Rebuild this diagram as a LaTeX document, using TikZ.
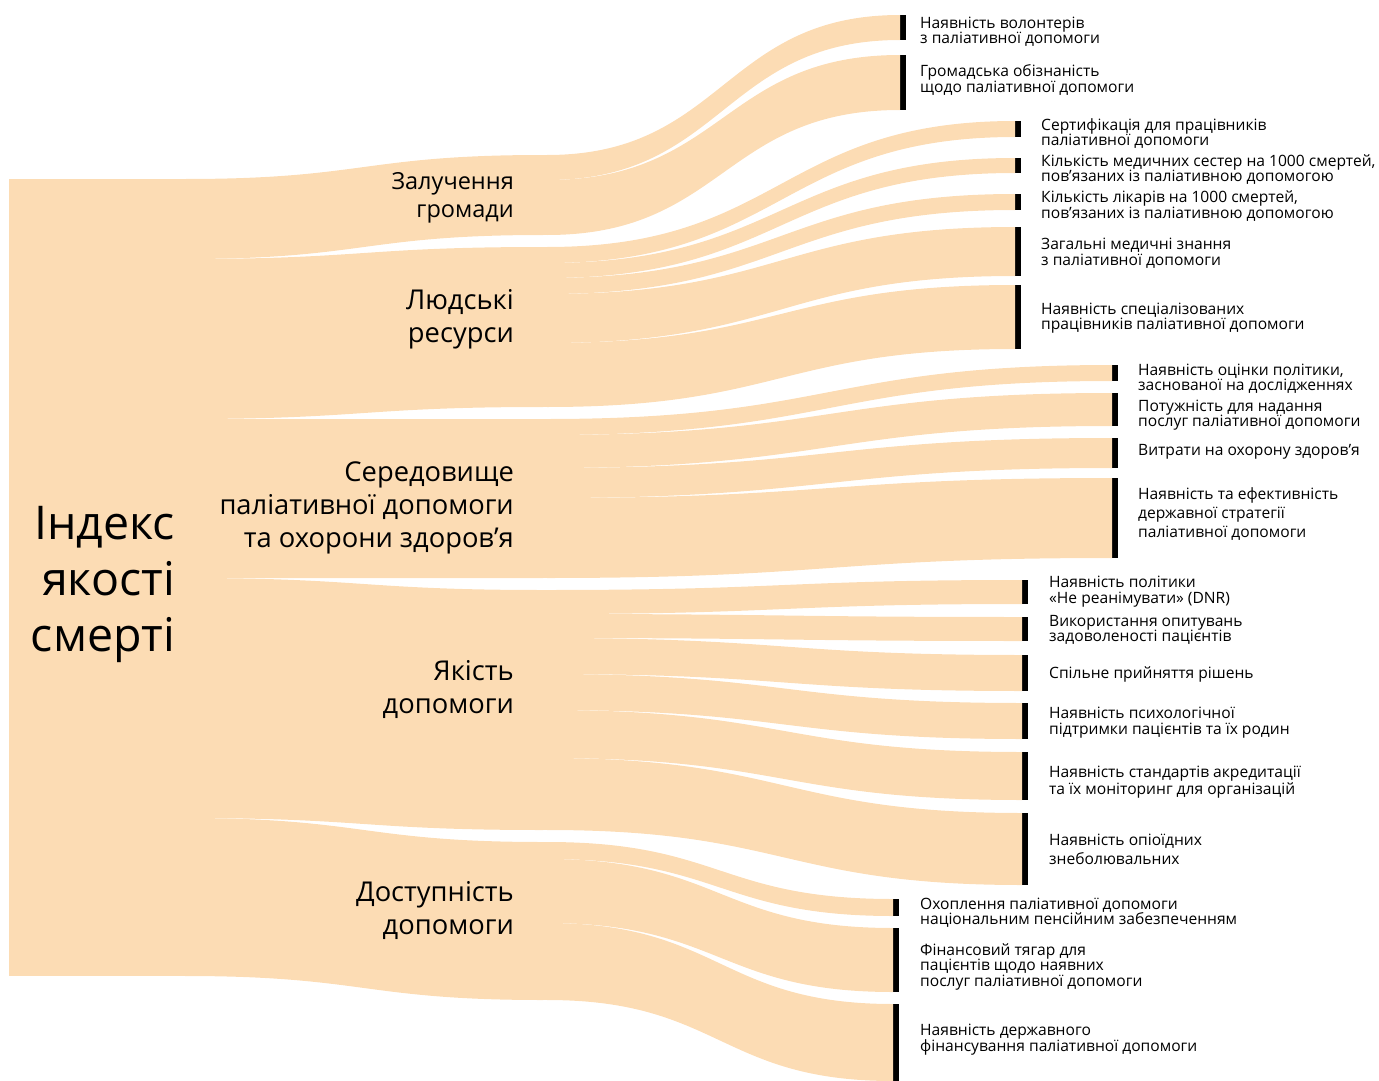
\documentclass[tikz,border=0pt]{standalone}
\usepackage{fontspec}
\setmainfont{Open Sans}
\usepackage{tikz}
\usetikzlibrary{calc}
\usetikzlibrary{positioning}
\definecolor{peach}{RGB}{252,220,180}

% band from #1 (offset #2, height #3) to the whole west side of #4
\newcommand{\band}[4]{%
  \fill[flow] let \p1=($(#1.north east)+(0,#2)$), \p2=(#4.north west),
    \p3=(#4.south west), \p4=($(#1.north east)+(0,#2+#3)$),
    \p5=($(\p1)!0.5!(\p2)$) in
    (\p1) .. controls (\x5,\y1) and (\x5,\y2) .. (\p2) -- (\p3)
    .. controls (\x5,\y3) and (\x5,\y4) .. (\p4) -- cycle;}

\begin{document}
\begin{tikzpicture}[x=1pt,y=-1pt,
  flow/.style={fill=peach},
  box/.style={fill=peach, inner sep=0, outer sep=0},
  bar/.style={fill=black, inner sep=0, outer sep=0, minimum width=6, anchor=north west},
  midlbl/.style={anchor=east, align=right, inner sep=0, font=\fontsize{27.3}{33}\selectfont},
  lbl/.style={anchor=west, align=left, inner sep=0, font=\fontsize{15.6}{15.5}\selectfont},
  lbl2/.style={lbl, font=\fontsize{15.6}{19}\selectfont}]
  \useasboundingbox (0,0) rectangle (1379,1081);

  \node[box, minimum width=176, minimum height=797, anchor=north west] (idx) at (9,179) {};
  \node[anchor=east, align=right, inner sep=0, font=\fontsize{46.5}{56}\selectfont] (idxlbl) at (175,584) {Індекс\\якості\\смерті};

  \node[box, minimum width=4, minimum height=80, anchor=north west] (zal) at (543,155) {};
  \node[box, minimum width=4, minimum height=160, anchor=north west] (lyud) at (543,247) {};
  \node[box, minimum width=4, minimum height=159, anchor=north west] (ser) at (543,419) {};
  \node[box, minimum width=4, minimum height=240, anchor=north west] (yak) at (543,590) {};
  \node[box, minimum width=4, minimum height=158, anchor=north west] (dost) at (543,842) {};

  \node[bar, minimum height=25] (vol) at (900,15) {};
  \node[bar, minimum height=55] (obiz) at (900,55) {};
  \node[bar, minimum height=16] (sert) at (1015,121) {};
  \node[bar, minimum height=15] (medses) at (1015,158) {};
  \node[bar, minimum height=16] (likar) at (1015,194) {};
  \node[bar, minimum height=49] (znann) at (1015,227) {};
  \node[bar, minimum height=64] (spec) at (1015,285) {};
  \node[bar, minimum height=16] (ocin) at (1112,365) {};
  \node[bar, minimum height=33] (potuzh) at (1112,393) {};
  \node[bar, minimum height=30] (vytr) at (1112,438) {};
  \node[bar, minimum height=80] (strat) at (1112,478) {};
  \node[bar, minimum height=24] (dnr) at (1022,580) {};
  \node[bar, minimum height=24] (opyt) at (1022,617) {};
  \node[bar, minimum height=36] (spiln) at (1022,655) {};
  \node[bar, minimum height=36] (psyh) at (1022,703) {};
  \node[bar, minimum height=48] (akred) at (1022,752) {};
  \node[bar, minimum height=72] (opio) at (1022,813) {};
  \node[bar, minimum height=17] (ohopl) at (893,899) {};
  \node[bar, minimum height=64] (tyag) at (893,928) {};
  \node[bar, minimum height=77] (fin) at (893,1004) {};

  \band{idx}{0}{80}{zal}
  \band{idx}{80}{160}{lyud}
  \band{idx}{240}{159}{ser}
  \band{idx}{399}{240}{yak}
  \band{idx}{639}{158}{dost}
  \band{zal}{0}{25}{vol}
  \band{zal}{25}{55}{obiz}
  \band{lyud}{0}{16}{sert}
  \band{lyud}{16}{15}{medses}
  \band{lyud}{31}{16}{likar}
  \band{lyud}{47}{49}{znann}
  \band{lyud}{96}{64}{spec}
  \band{ser}{0}{16}{ocin}
  \band{ser}{16}{33}{potuzh}
  \band{ser}{49}{30}{vytr}
  \band{ser}{79}{80}{strat}
  \band{yak}{0}{24}{dnr}
  \band{yak}{24}{24}{opyt}
  \band{yak}{48}{36}{spiln}
  \band{yak}{84}{36}{psyh}
  \band{yak}{120}{48}{akred}
  \band{yak}{168}{72}{opio}
  \band{dost}{0}{17}{ohopl}
  \band{dost}{17}{64}{tyag}
  \band{dost}{81}{77}{fin}

  \node[midlbl, font=\fontsize{23.5}{28}\selectfont] (zallbl) at (514,198) {Залучення\\громади};
  \node[midlbl] (lyudlbl) at (514,319.5) {Людські\\ресурси};
  \node[midlbl] (serlbl) at (514,507.5) {Середовище\\паліативної допомоги\\та охорони здоров’я};
  \node[midlbl] (yaklbl) at (514,690) {Якість\\допомоги};
  \node[midlbl] (dostlbl) at (514,910) {Доступність\\допомоги};

  \node[lbl] (vollbl) at (920,31.5) {Наявність волонтерів\\з паліативної допомоги};
  \node[lbl] (obizlbl) at (920,80) {Громадська обізнаність\\щодо паліативної допомоги};
  \node[lbl] (sertlbl) at (1041,133.5) {Сертифікація для працівників\\паліативної допомоги};
  \node[lbl] (medseslbl) at (1041,169.5) {Кількість медичних сестер на 1000 смертей,\\пов’язаних із паліативною допомогою};
  \node[lbl] (likarlbl) at (1041,206) {Кількість лікарів на 1000 смертей,\\пов’язаних із паліативною допомогою};
  \node[lbl] (znannlbl) at (1041,253) {Загальні медичні знання\\з паліативної допомоги};
  \node[lbl] (speclbl) at (1041,318) {Наявність спеціалізованих\\працівників паліативної допомоги};
  \node[lbl] (ocinlbl) at (1138,378.5) {Наявність оцінки політики,\\заснованої на дослідженнях};
  \node[lbl] (potuzhlbl) at (1138,415) {Потужність для надання\\послуг паліативної допомоги};
  \node[lbl] (vytrlbl) at (1138,451.5) {Витрати на охорону здоров’я};
  \node[lbl2] (stratlbl) at (1138,514.5) {Наявність та ефективність\\державної стратегії\\паліативної допомоги};
  \node[lbl] (dnrlbl) at (1049,591.5) {Наявність політики\\«Не реанімувати» (DNR)};
  \node[lbl] (opytlbl) at (1049,630) {Використання опитувань\\задоволеності пацієнтів};
  \node[lbl] (spilnlbl) at (1049,674.5) {Спільне прийняття рішень};
  \node[lbl] (psyhlbl) at (1049,722.5) {Наявність психологічної\\підтримки пацієнтів та їх родин};
  \node[lbl] (akredlbl) at (1049,782) {Наявність стандартів акредитації\\та їх моніторинг для організацій};
  \node[lbl2] (opiolbl) at (1049,849) {Наявність опіоїдних\\знеболювальних};
  \node[lbl] (ohopllbl) at (920,912.5) {Охоплення паліативної допомоги\\національним пенсійним забезпеченням};
  \node[lbl] (tyaglbl) at (920,966.5) {Фінансовий тягар для\\пацієнтів щодо наявних\\послуг паліативної допомоги};
  \node[lbl] (finlbl) at (920,1039.5) {Наявність державного\\фінансування паліативної допомоги};
\end{tikzpicture}
\end{document}
